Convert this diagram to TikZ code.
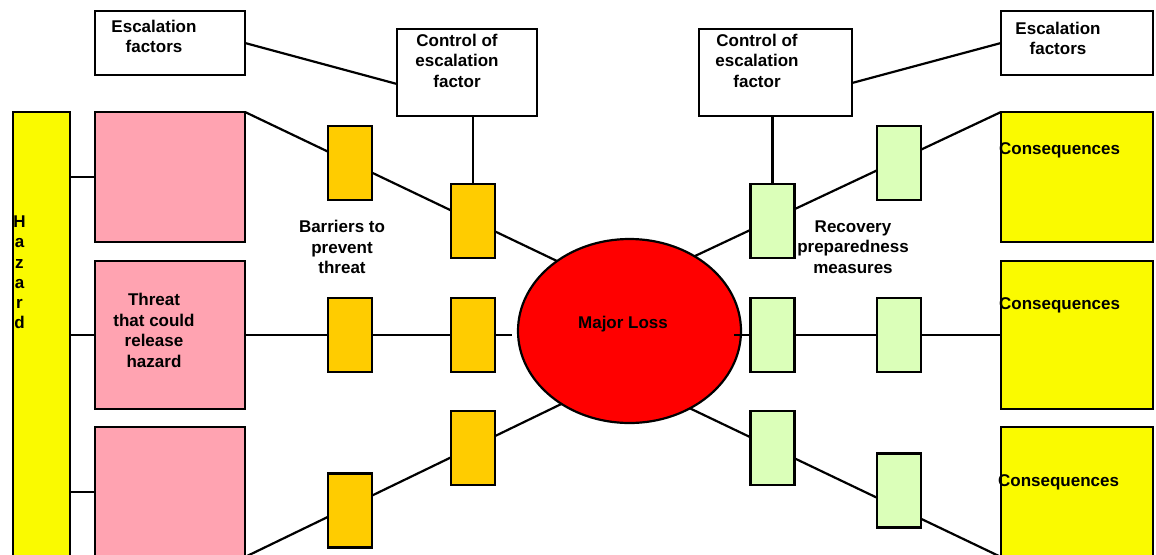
\documentclass[tikz,border=0pt]{standalone}
\usepackage{fontspec}
\setmainfont{Liberation Sans}
\usetikzlibrary{shapes.geometric,backgrounds,calc}
\definecolor{pinkc}{RGB}{255,163,177}
\definecolor{orangec}{RGB}{255,204,0}
\definecolor{greenc}{RGB}{219,255,185}
\definecolor{yellowc}{RGB}{250,250,0}
\definecolor{redc}{RGB}{255,0,0}
\begin{document}
\begin{tikzpicture}[x=1pt,y=-1pt,line width=2.2pt,
  box/.style={draw=black,rectangle,inner sep=0pt,outer sep=0pt,line width=2.2pt},
  wbox/.style={box,fill=white},
  pbox/.style={box,fill=pinkc,minimum width=150pt},
  cbox/.style={box,fill=yellowc,minimum width=152pt},
  obar/.style={box,fill=orangec,minimum width=44pt,minimum height=74pt},
  gbar/.style={box,fill=greenc,minimum width=44pt,minimum height=74pt},
  txt/.style={font=\bfseries\fontsize{17}{20.5}\selectfont,align=center,inner sep=0pt},
  conn/.style={draw=black,line width=2.2pt}]
\useasboundingbox (0,0) rectangle (1156,554);

% escalation factors and controls
\node[wbox,minimum width=150pt,minimum height=64pt] (escL) at (170,43) {};
\node[txt] (escLt) at (154,36.5) {Escalation\\factors};
\node[wbox,minimum width=140pt,minimum height=87pt] (ctrlL) at (467,72.5) {};
\node[txt] (ctrlLt) at (457,60.5) {Control of\\escalation\\factor};
\node[wbox,minimum width=153pt,minimum height=87pt] (ctrlR) at (775.5,72.5) {};
\node[txt] (ctrlRt) at (757,60.5) {Control of\\escalation\\factor};
\node[wbox,minimum width=152pt,minimum height=64pt] (escR) at (1077,43) {};
\node[txt] (escRt) at (1058,38.5) {Escalation\\factors};

% hazard
\node[box,fill=yellowc,minimum width=57pt,minimum height=445pt] (haz) at (41.5,334.5) {};
\node[txt,font=\bfseries\fontsize{17}{20.2}\selectfont] (hazt) at (19.5,272.5) {H\\a\\z\\a\\r\\d};

% threats
\node[pbox,minimum height=130pt] (p1) at (170,177) {};
\node[pbox,minimum height=148pt] (p2) at (170,335) {};
\node[pbox,minimum height=130pt] (p3) at (170,492) {};
\node[txt] (p2t) at (154,330.5) {Threat\\that could\\release\\hazard};

% consequences
\node[cbox,minimum height=130pt] (c1) at (1077,177) {};
\node[cbox,minimum height=148pt] (c2) at (1077,335) {};
\node[cbox,minimum height=130pt] (c3) at (1077,492) {};
\node[txt,anchor=west] (c1t) at (998,150) {Consequences};
\node[txt,anchor=west] (c2t) at (998,305) {Consequences};
\node[txt,anchor=west] (c3t) at (997,482) {Consequences};

% barriers
\node[obar] (o11) at (350,163) {};
\node[obar] (o12) at (350,335) {};
\node[obar] (o13) at (350,510.5) {};
\node[obar] (o21) at (473,221) {};
\node[obar] (o22) at (473,335) {};
\node[obar] (o23) at (473,448) {};
\node[gbar] (g11) at (772.5,221) {};
\node[gbar] (g12) at (772.5,335) {};
\node[gbar] (g13) at (772.5,448) {};
\node[gbar] (g21) at (899,163) {};
\node[gbar] (g22) at (899,335) {};
\node[gbar] (g23) at (899,490.5) {};

\node[txt] (bart) at (342,247) {Barriers to\\prevent\\threat};
\node[txt] (rect) at (853,247) {Recovery\\preparedness\\measures};

\node[txt] (losst) at (623,324) {Major Loss};

\coordinate (e2) at (512,335);
\coordinate (e5) at (734,335);

\begin{scope}[on background layer]
  \fill[white] (0,0) rectangle (1156,554);
  \node[ellipse,draw=black,line width=2.2pt,fill=redc,minimum width=223pt,minimum height=184pt,inner sep=0pt,outer sep=0pt] (loss) at (629.5,331) {};
  \draw[conn] (escL.east) -- ([yshift=-11.5pt]ctrlL.west);
  \draw[conn] (ctrlL.south -| o21.north) -- (o21.north);
  \draw[conn] (ctrlR.south -| g11.north) -- (g11.north);
  \draw[conn] ([yshift=-10.5pt]ctrlR.east) -- (escR.west);
  \draw[conn] (haz.east |- p1.west) -- (p1.west);
  \draw[conn] (haz.east |- p2.west) -- (p2.west);
  \draw[conn] (haz.east |- p3.west) -- (p3.west);
  \draw[conn] (p1.north east) -- (loss.136);
  \draw[conn] (p2.east) -- (e2);
  \draw[conn] (p3.south east) -- (loss.227);
  \draw[conn] (loss.49) -- (c1.north west);
  \draw[conn] (e5) -- (c2.west);
  \draw[conn] (loss.308) -- (c3.south west);
\end{scope}
\end{tikzpicture}
\end{document}
